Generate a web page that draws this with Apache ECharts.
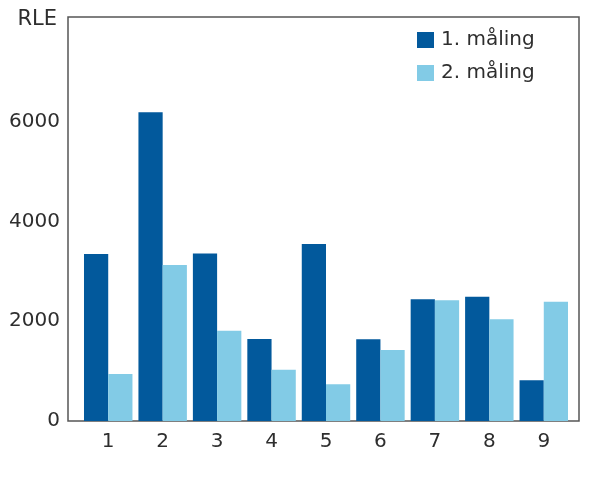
<!DOCTYPE html>
<html>
<head>
<meta charset="utf-8">
<script src="https://cdn.jsdelivr.net/npm/echarts@6/dist/echarts.min.js"></script>
<style>html,body{margin:0;padding:0;background:#fff;}#c{width:590px;height:478px;}</style>
</head>
<body>
<div id="c"></div>
<script>
var categories = ['1', '2', '3', '4', '5', '6', '7', '8', '9'];
var seriesNames = ['1. måling', '2. måling'];
var maling1 = [3350, 6190, 3360, 1645, 3550, 1640, 2440, 2490, 815];
var maling2 = [940, 3130, 1810, 1030, 735, 1425, 2420, 2040, 2390];
var yTicks = [0, 2000, 4000, 6000];
var yMax = 8100;

var font = 'DejaVu Sans';
var textColor = '#2e2e2e';
var chart = echarts.init(document.getElementById('c'), null, {renderer: 'canvas'});
chart.setOption({
  animation: false,
  backgroundColor: '#fff',
  textStyle: {fontFamily: font},
  grid: [
    {left: 68, right: 11, top: 17, bottom: 57, show: true, borderColor: '#555', borderWidth: 1.5, backgroundColor: 'transparent'},
    {left: 81, right: 19, top: 17, bottom: 57}
  ],
  legend: {
    orient: 'vertical',
    left: 417, top: 30, padding: 0,
    itemWidth: 17, itemHeight: 16, itemGap: 13,
    icon: 'rect',
    data: seriesNames,
    textStyle: {fontFamily: font, fontSize: 20, lineHeight: 16, color: textColor, padding: [0, 0, 0, 2]}
  },
  xAxis: [
    {gridIndex: 0, type: 'value', show: false, min: 0, max: 1},
    {gridIndex: 1, type: 'category', data: categories,
     axisLine: {show: false}, axisTick: {show: false},
     axisLabel: {fontFamily: font, fontSize: 20, color: textColor, margin: 11}}
  ],
  yAxis: [
    {gridIndex: 0, type: 'value', min: 0, max: yMax, interval: 2000,
     name: 'RLE', nameLocation: 'end', nameGap: -3,
     nameTextStyle: {fontFamily: font, fontSize: 21, color: textColor, align: 'right', verticalAlign: 'middle', padding: [0, 11, 0, 0]},
     axisLine: {show: false}, axisTick: {show: false}, splitLine: {show: false},
     axisLabel: {fontFamily: font, fontSize: 20, color: textColor, margin: 8,
       formatter: function (v) { return yTicks.indexOf(v) >= 0 ? String(v) : ''; }}},
    {gridIndex: 1, type: 'value', min: 0, max: yMax, show: false}
  ],
  series: [
    {name: seriesNames[0], type: 'bar', xAxisIndex: 1, yAxisIndex: 1, data: maling1,
     itemStyle: {color: '#02599c'}, barGap: '0%', barCategoryGap: '11%'},
    {name: seriesNames[1], type: 'bar', xAxisIndex: 1, yAxisIndex: 1, data: maling2,
     itemStyle: {color: '#82cbe6'}, barGap: '0%', barCategoryGap: '11%'}
  ]
});
</script>
</body>
</html>
